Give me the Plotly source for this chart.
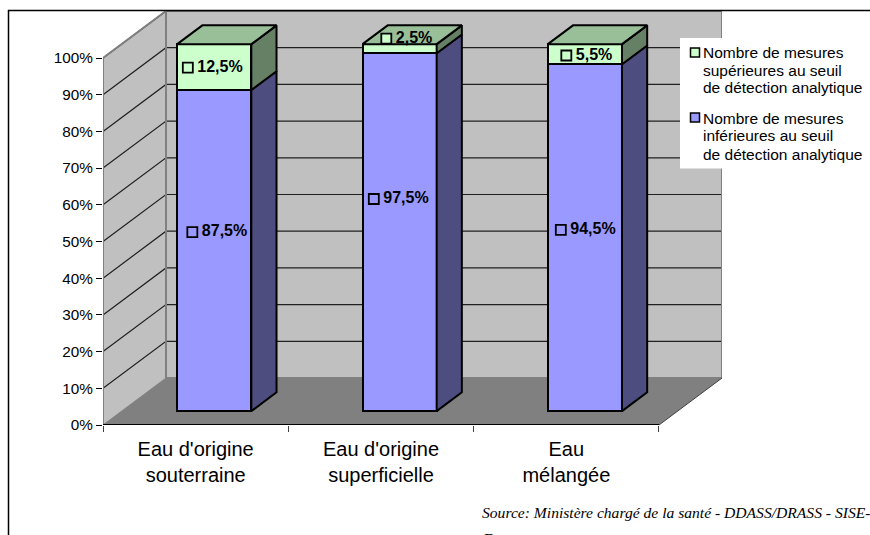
import plotly.graph_objects as go

# ---------- data ----------
categories = ["Eau d'origine<br>souterraine", "Eau d'origine<br>superficielle", "Eau<br>mélangée"]
series_low_name = "Nombre de mesures inférieures au seuil de détection analytique"
series_high_name = "Nombre de mesures supérieures au seuil de détection analytique"
values_low = [87.5, 97.5, 94.5]
values_high = [12.5, 2.5, 5.5]
labels_low = ["87,5%", "97,5%", "94,5%"]
labels_high = ["12,5%", "2,5%", "5,5%"]
y_ticks = [0, 10, 20, 30, 40, 50, 60, 70, 80, 90, 100]
legend_high_lines = ["Nombre de mesures", "supérieures au seuil", "de détection analytique"]
legend_low_lines = ["Nombre de mesures", "inférieures au seuil", "de détection analytique"]
source_lines = ["Source: Ministère chargé de la santé - DDASS/DRASS - SISE-", "Eaux"]

# ---------- geometry of the pseudo-3D box (pixels) ----------
W, H = 870, 535
X0, Y0 = 103, 425            # front-left corner at 0%
PX_CAT = 185.33              # px per category
PX_PCT = 3.67                # px per percent
DEPTH_X, DEPTH_Y = 63, 47    # floor depth in px
X_END, Y_TOP = X0 + 3 * PX_CAT + DEPTH_X, Y0 - 100 * PX_PCT - DEPTH_Y
dx = DEPTH_X / PX_CAT        # depth in data units
dy = DEPTH_Y / PX_PCT
xmax, ymax = 3 + dx, 100 + dy
BAR_W = 0.4
F_SHIFT, F_DEPTH = 0.295, 0.40   # bar front position / bar thickness, as share of depth

WALL, FLOOR, EDGE = "#C0C0C0", "#808080", "#808080"
C_LOW, C_LOW_D = "#9999FF", "#4D4D80"
C_HIGH, C_HIGH_D, C_HIGH_T = "#CCFFCC", "#668066", "#99BF99"
FONT = "Liberation Sans"

fig = go.Figure()


def poly(xs, ys, fill=None, line="rgba(0,0,0,0)", width=1, xa="x", ya="y"):
    fig.add_trace(go.Scatter(
        x=xs, y=ys, mode="lines", xaxis=xa, yaxis=ya,
        fill="toself" if fill else None, fillcolor=fill,
        line=dict(color=line, width=width), hoverinfo="skip", showlegend=False))


# walls and floor
poly([0, dx, dx, 0, 0], [0, dy, 100 + dy, 100, 0], WALL)
poly([dx, 3 + dx, 3 + dx, dx, dx], [dy, dy, 100 + dy, 100 + dy, dy], WALL)
poly([0, 3, 3 + dx, dx, 0], [0, 0, dy, dy, 0], FLOOR)

# gridlines on both walls
for t in y_ticks[1:]:
    poly([0, dx, 3 + dx], [t, t + dy, t + dy], line="#202020", width=1.2)

# wall edges
poly([0, 0, dx, dx, dx], [0, 100, 100 + dy, dy, 0 + dy], line=EDGE, width=2)
poly([dx, 3 + dx, 3 + dx], [dy, dy, 100 + dy], line=EDGE, width=2)
poly([3, 3 + dx], [0, dy], line="#404040", width=1)
poly([0, dx], [0, dy], line=FLOOR, width=1)
poly([0, 3], [0, 0], line="#000000", width=2)

# front faces: real stacked bars on an overlaid, shifted axis pair
centers = [0.5, 1.5, 2.5]
fig.add_trace(go.Bar(x=centers, y=values_low, width=BAR_W, name=series_low_name, xaxis="x2", yaxis="y2",
                     marker=dict(color=C_LOW, line=dict(color="#000000", width=2)),
                     hoverinfo="skip", showlegend=False))
fig.add_trace(go.Bar(x=centers, y=values_high, width=BAR_W, name=series_high_name, xaxis="x2", yaxis="y2",
                     marker=dict(color=C_HIGH, line=dict(color="#000000", width=2)),
                     hoverinfo="skip", showlegend=False))

# side and top faces, computed from the values
ddx, ddy = dx * F_DEPTH, dy * F_DEPTH
for c, lo, hi in zip(centers, values_low, values_high):
    r = c + BAR_W / 2
    l = c - BAR_W / 2
    total = lo + hi
    poly([r, r + ddx, r + ddx, r, r], [0, ddy, lo + ddy, lo, 0], C_LOW_D, "#000000", 2, "x2", "y2")
    poly([r, r + ddx, r + ddx, r, r], [lo, lo + ddy, total + ddy, total, lo], C_HIGH_D, "#000000", 2, "x2", "y2")
    poly([l, l + ddx, r + ddx, r, l], [total, total + ddy, total + ddy, total, total], C_HIGH_T, "#000000", 2, "x2", "y2")

# data labels with their legend key (positions of the moved labels, in overlay-axis units)
label_x_low = [0.3817, 1.3610, 2.3700]
label_y_low = [48.8, 57.8, 49.4]
label_x_high = [0.3574, 1.4284, 2.3997]
label_y_high = [93.6, 101.5, 96.9]
label_gap = 9.5 / PX_CAT
for xs, ys, txt, col in ((label_x_low, label_y_low, labels_low, C_LOW),
                         (label_x_high, label_y_high, labels_high, C_HIGH)):
    fig.add_trace(go.Scatter(
        x=xs, y=ys, mode="markers", xaxis="x2", yaxis="y2",
        marker=dict(symbol="square", size=10, color=col, line=dict(color="#000000", width=1.8)),
        hoverinfo="skip", showlegend=False, cliponaxis=False))
    fig.add_trace(go.Scatter(
        x=[v + label_gap for v in xs], y=ys, mode="text", xaxis="x2", yaxis="y2", text=txt,
        textposition="middle right",
        textfont=dict(family=FONT, size=16, color="#000000", weight="bold"),
        hoverinfo="skip", showlegend=False, cliponaxis=False))

shapes = [
    # legend background, legend keys and outer frame
    dict(type="rect", xref="paper", yref="paper", x0=680 / W, x1=864 / W, y0=1 - 168.5 / H, y1=1 - 38 / H,
         fillcolor="#FFFFFF", line=dict(width=0), layer="above"),
    dict(type="rect", xref="paper", yref="paper", x0=690.5 / W, x1=699.5 / W, y0=1 - 57 / H, y1=1 - 48 / H,
         fillcolor=C_HIGH, line=dict(color="#000000", width=1.5), layer="above"),
    dict(type="rect", xref="paper", yref="paper", x0=690.5 / W, x1=699.5 / W, y0=1 - 122 / H, y1=1 - 113 / H,
         fillcolor=C_LOW, line=dict(color="#000000", width=1.5), layer="above"),
    dict(type="line", xref="paper", yref="paper", x0=8 / W, x1=1, y0=1 - 10.5 / H, y1=1 - 10.5 / H,
         line=dict(color="#000000", width=1.5), layer="above"),
    dict(type="line", xref="paper", yref="paper", x0=8.5 / W, x1=8.5 / W, y0=0, y1=1 - 10 / H,
         line=dict(color="#000000", width=1.5), layer="above"),
]

annotations = []
for lines, ys in ((legend_high_lines, (53, 70.5, 88)), (legend_low_lines, (118.5, 136, 154))):
    for line, y in zip(lines, ys):
        annotations.append(dict(text=line, xref="paper", yref="paper", x=701 / W, y=1 - y / H,
                                xanchor="left", yanchor="middle", showarrow=False,
                                font=dict(family=FONT, size=15.5, color="#000000")))
for line, y in zip(source_lines, (512, 538)):
    annotations.append(dict(text=line, xref="paper", yref="paper", x=480 / W, y=1 - y / H,
                            xanchor="left", yanchor="middle", showarrow=False,
                            font=dict(family="Liberation Serif", size=15.6, color="#000000", style="italic")))

fig.update_layout(
    width=W, height=H, margin=dict(l=0, r=0, t=0, b=0, autoexpand=False),
    paper_bgcolor="#FFFFFF", plot_bgcolor="rgba(0,0,0,0)",
    barmode="stack", showlegend=False, shapes=shapes, annotations=annotations,
    xaxis=dict(domain=[X0 / W, X_END / W], range=[0, xmax], showgrid=False, zeroline=False, showline=False,
               tickmode="array", tickvals=centers, ticktext=categories, ticks="",
               ticklabelstandoff=10, tickangle=0,
               tickfont=dict(family=FONT, size=20, color="#000000"),
               minor=dict(tickmode="array", tickvals=[0, 1, 2, 3], ticks="outside", ticklen=6,
                          tickcolor="#404040", tickwidth=1, showgrid=False)),
    yaxis=dict(domain=[(H - Y0) / H, (H - Y_TOP) / H], range=[0, ymax], showgrid=False, zeroline=False,
               showline=False, tickmode="array", tickvals=y_ticks,
               ticktext=[f"{t}%" for t in y_ticks], ticks="outside", ticklen=6, tickcolor="#000000",
               tickwidth=1, ticklabelstandoff=0,
               tickfont=dict(family=FONT, size=15.3, color="#000000")),
    xaxis2=dict(overlaying="x", anchor="y", range=[-dx * F_SHIFT, xmax - dx * F_SHIFT], visible=False),
    yaxis2=dict(overlaying="y", anchor="x", range=[-dy * F_SHIFT, ymax - dy * F_SHIFT], visible=False),
)

fig.write_html("out.html", config={"displayModeBar": False},
               post_script="document.body.style.margin='0';document.documentElement.style.overflow='hidden';")
